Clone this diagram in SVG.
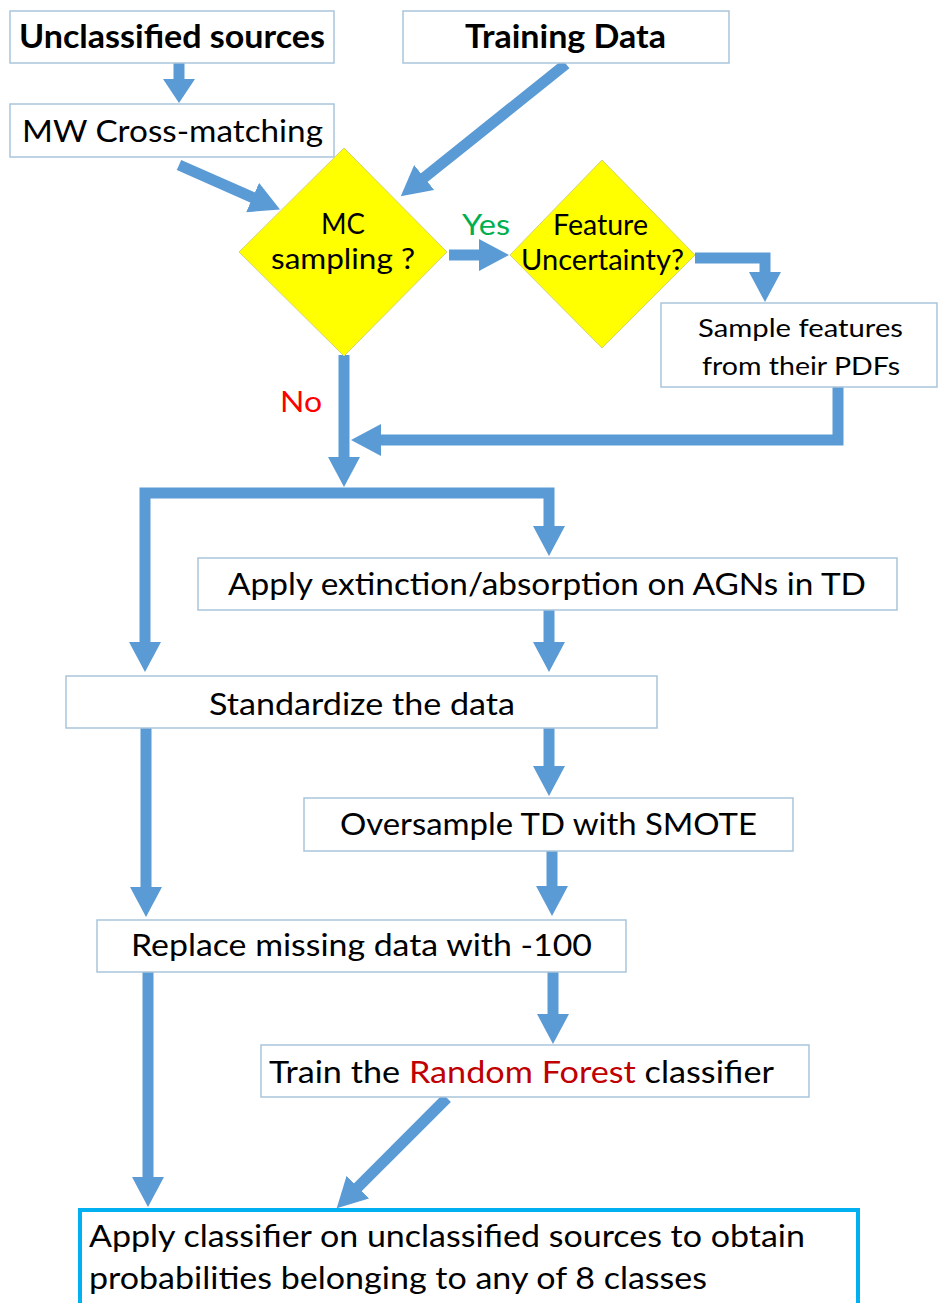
<svg xmlns="http://www.w3.org/2000/svg" width="938" height="1303" viewBox="0 0 938 1303">
<defs>
<style>
.box{fill:#fff;stroke:#A9C5DA;stroke-width:1.5}
.dia{fill:#FFFF00;stroke:#D4D46A;stroke-width:1}
.t{font-family:Lato,"Open Sans","Liberation Sans",sans-serif;font-size:31px;fill:#000}
.b{font-weight:bold;font-size:32.5px}
.s{font-size:25px}
.d{font-size:28.5px}
.c{fill:none;stroke:#5B9BD5;stroke-width:11;stroke-linejoin:miter;marker-end:url(#ah)}
</style>
<marker id="ah" markerUnits="userSpaceOnUse" markerWidth="30" markerHeight="32" viewBox="0 0 30 32" refX="1" refY="16" orient="auto-start-reverse">
<path d="M0,0 L30,16 L0,32 z" fill="#5B9BD5"/>
</marker>
<marker id="ahs" markerUnits="userSpaceOnUse" markerWidth="24" markerHeight="32" viewBox="0 0 24 32" refX="1" refY="16" orient="auto">
<path d="M0,0 L24,16 L0,32 z" fill="#5B9BD5"/>
</marker>
</defs>
<rect width="938" height="1303" fill="#fff"/>

<g id="connectors">
<path class="c" style="marker-end:url(#ahs)" d="M179,63 V80"/>
<path class="c" d="M179,165 L253.5,197.9"/>
<path class="c" d="M566,64 L423.4,178.2"/>
<path class="c" d="M449,255 H480"/>
<path class="c" d="M695,258 H765 V273"/>
<path class="c" d="M838,387 V440 H380"/>
<path class="c" d="M344,355 V458"/>
<path class="c" style="marker-start:url(#ah)" d="M145,643 V493 H549 V527"/>
<path class="c" d="M549,610 V643"/>
<path class="c" d="M549,728 V767"/>
<path class="c" d="M146,728 V888"/>
<path class="c" d="M552,851 V887"/>
<path class="c" d="M553,972 V1015"/>
<path class="c" d="M148,972 V1178"/>
<path class="c" d="M447,1098 L357.2,1187.8"/>
</g>

<g id="unclassified">
<rect class="box" x="10" y="11" width="324" height="52"/>
<text class="t b" x="19" y="48" textLength="306" lengthAdjust="spacingAndGlyphs">Unclassified sources</text>
</g>
<g id="training">
<rect class="box" x="403" y="11" width="326" height="52"/>
<text class="t b" x="465" y="48" textLength="201" lengthAdjust="spacingAndGlyphs">Training Data</text>
</g>
<g id="crossmatch">
<rect class="box" x="10" y="104" width="324" height="53"/>
<text class="t" x="22" y="142" textLength="301" lengthAdjust="spacingAndGlyphs">MW Cross-matching</text>
</g>
<g id="mc">
<polygon class="dia" points="344,148 447,252 344,356 239,252"/>
<text class="t d" x="321" y="234" textLength="44" lengthAdjust="spacingAndGlyphs">MC</text>
<text class="t d" x="271" y="269" textLength="144" lengthAdjust="spacingAndGlyphs">sampling ?</text>
</g>
<g id="yes">
<text class="t d" x="462" y="235" style="fill:#00B050" textLength="48" lengthAdjust="spacingAndGlyphs">Yes</text>
</g>
<g id="feature">
<polygon class="dia" points="602,160 695,255 602,348 510,255"/>
<text class="t d" x="553" y="235" textLength="95" lengthAdjust="spacingAndGlyphs">Feature</text>
<text class="t d" x="521" y="270" textLength="163" lengthAdjust="spacingAndGlyphs">Uncertainty?</text>
</g>
<g id="sample">
<rect class="box" x="661" y="303" width="276" height="84"/>
<text class="t s" x="698" y="337" textLength="205" lengthAdjust="spacingAndGlyphs">Sample features</text>
<text class="t s" x="702" y="375" textLength="198" lengthAdjust="spacingAndGlyphs">from their PDFs</text>
</g>
<g id="no">
<text class="t d" x="280" y="412" style="fill:#FF0000" textLength="42" lengthAdjust="spacingAndGlyphs">No</text>
</g>
<g id="extinction">
<rect class="box" x="198" y="558" width="699" height="52"/>
<text class="t" x="228" y="595" textLength="638" lengthAdjust="spacingAndGlyphs">Apply extinction/absorption on AGNs in TD</text>
</g>
<g id="standardize">
<rect class="box" x="66" y="676" width="591" height="52"/>
<text class="t" x="209" y="715" textLength="306" lengthAdjust="spacingAndGlyphs">Standardize the data</text>
</g>
<g id="oversample">
<rect class="box" x="304" y="798" width="489" height="53"/>
<text class="t" x="340" y="835" textLength="417" lengthAdjust="spacingAndGlyphs">Oversample TD with SMOTE</text>
</g>
<g id="replace">
<rect class="box" x="97" y="920" width="529" height="52"/>
<text class="t" x="131" y="956" textLength="461" lengthAdjust="spacingAndGlyphs">Replace missing data with -100</text>
</g>
<g id="train">
<rect class="box" x="261" y="1045" width="548" height="52"/>
<text class="t" x="269" y="1083" textLength="505" lengthAdjust="spacingAndGlyphs">Train the <tspan style="fill:#C00000">Random Forest</tspan> classifier</text>
</g>
<g id="apply">
<rect x="80" y="1210" width="778" height="110" fill="#fff" stroke="#00B0F0" stroke-width="4"/>
<text class="t" x="89" y="1247" textLength="716" lengthAdjust="spacingAndGlyphs">Apply classifier on unclassified sources to obtain</text>
<text class="t" x="89" y="1289" textLength="618" lengthAdjust="spacingAndGlyphs">probabilities belonging to any of 8 classes</text>
</g>
</svg>
